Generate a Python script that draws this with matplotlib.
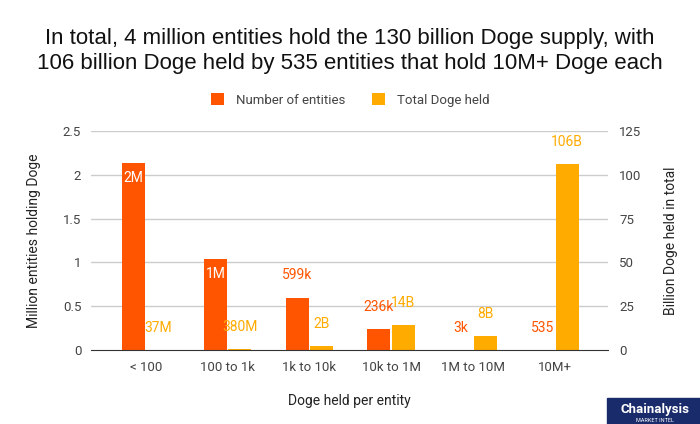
import numpy as np
import matplotlib.pyplot as plt
from matplotlib.patches import Rectangle

plt.rcParams['font.family'] = ['Roboto', 'DejaVu Sans']

# Daten
categories = ['< 100', '100 to 1k', '1k to 10k', '10k to 1M', '1M to 10M', '10M+']
entities_million = [2.14, 1.04, 0.599, 0.236, 0.003, 0.000535]
doge_billion = [0.037, 0.38, 2, 14, 8, 106]
entity_labels = ['2M', '1M', '599k', '236k', '3k', '535']
doge_labels = ['37M', '380M', '2B', '14B', '8B', '106B']
inside_label = [True, True, False, False, False, False]

c_orange = '#ff5500'
c_yellow = '#ffab00'
c_text = '#444444'

fig = plt.figure(figsize=(7, 4.24), dpi=100)
ax = fig.add_axes([91 / 700, 74 / 424, 517 / 700, 219 / 424])
ax2 = ax.twinx()

x = np.arange(len(categories))
w = 0.28
gap = 0.02
ax.bar(x - w / 2 - gap / 2, entities_million, w, color=c_orange, zorder=3,
       label='Number of entities')
ax2.bar(x + w / 2 + gap / 2, doge_billion, w, color=c_yellow, zorder=3,
        label='Total Doge held')

ax.set_xlim(-0.67, 5.65)
ax.set_ylim(0, 2.5)
ax2.set_ylim(0, 125)
ax.set_yticks([0, 0.5, 1, 1.5, 2, 2.5])
ax.set_yticklabels(['0', '0.5', '1', '1.5', '2', '2.5'])
ax2.set_yticks([0, 25, 50, 75, 100, 125])
ax.set_xticks(x)
ax.set_xticklabels(categories)

for a in (ax, ax2):
    a.tick_params(length=0, labelsize=9.5, labelcolor=c_text)
    for s in a.spines.values():
        s.set_visible(False)
ax.tick_params(axis='y', pad=7)
ax2.tick_params(axis='y', pad=8)
ax.tick_params(axis='x', pad=8)
ax.spines['bottom'].set_visible(True)
ax.spines['bottom'].set_color('#333333')
ax.spines['bottom'].set_zorder(5)
ax2.set_zorder(ax.get_zorder() - 1)
ax.patch.set_visible(False)
# Gitternetz in ax2-Ebene zeichnen, damit Balken darüber liegen
for yv in [25, 50, 75, 100, 125]:
    ax2.axhline(yv, color='#cccccc', linewidth=1, zorder=0)

# Datenbeschriftungen
for i in range(len(categories)):
    xo = x[i] - w / 2 - gap / 2
    if inside_label[i]:
        ax.annotate(entity_labels[i], (xo, entities_million[i]), xytext=(0, -11),
                    textcoords='offset points', ha='center', va='center',
                    color='white', fontsize=10, zorder=6)
    else:
        ax.annotate(entity_labels[i], (xo, entities_million[i]), xytext=(0, 16),
                    textcoords='offset points', ha='center', va='center',
                    color=c_orange, fontsize=10, zorder=6)
    xy = x[i] + w / 2 + gap / 2
    ax.annotate(doge_labels[i], (xy, doge_billion[i] / 50), xytext=(0, 16),
                textcoords='offset points', ha='center', va='center',
                color=c_yellow, fontsize=10, zorder=6)

ax.set_ylabel('Million entities holding Doge', fontsize=10, color='#222222', labelpad=16)
ax2.set_ylabel('Billion Doge held in total', fontsize=10, color='#222222', labelpad=16)
ax.set_xlabel('Doge held per entity', fontsize=10, color='#222222', labelpad=14)

# Legende
h1, l1 = ax.get_legend_handles_labels()
h2, l2 = ax2.get_legend_handles_labels()
fig.legend(h1 + h2, l1 + l2, loc='center', bbox_to_anchor=(0.5, 1 - 100 / 424),
           ncol=2, frameon=False, fontsize=9.5, labelcolor=c_text,
           handlelength=1.0, handleheight=1.0, columnspacing=2.0, handletextpad=0.9)

fig.text(0.5, 1 - 51 / 424,
         'In total, 4 million entities hold the 130 billion Doge supply, with\n'
         '106 billion Doge held by 535 entities that hold 10M+ Doge each',
         ha='center', va='center', fontsize=16, color='#111111', linespacing=1.2,
         family=['Liberation Sans', 'DejaVu Sans'])

# Logo
fig.patches.append(Rectangle((607 / 700, 0), 93 / 700, 26 / 424, transform=fig.transFigure,
                             color='#1a2b6b', zorder=1))
fig.text(655 / 700, 15 / 424, 'Chainalysis', color='white', fontsize=9.5,
         fontweight='bold', ha='center', va='center')
fig.text(655 / 700, 4 / 424, 'MARKET INTEL', color='white', fontsize=4,
         ha='center', va='center')

plt.savefig('out.png', dpi=100)
